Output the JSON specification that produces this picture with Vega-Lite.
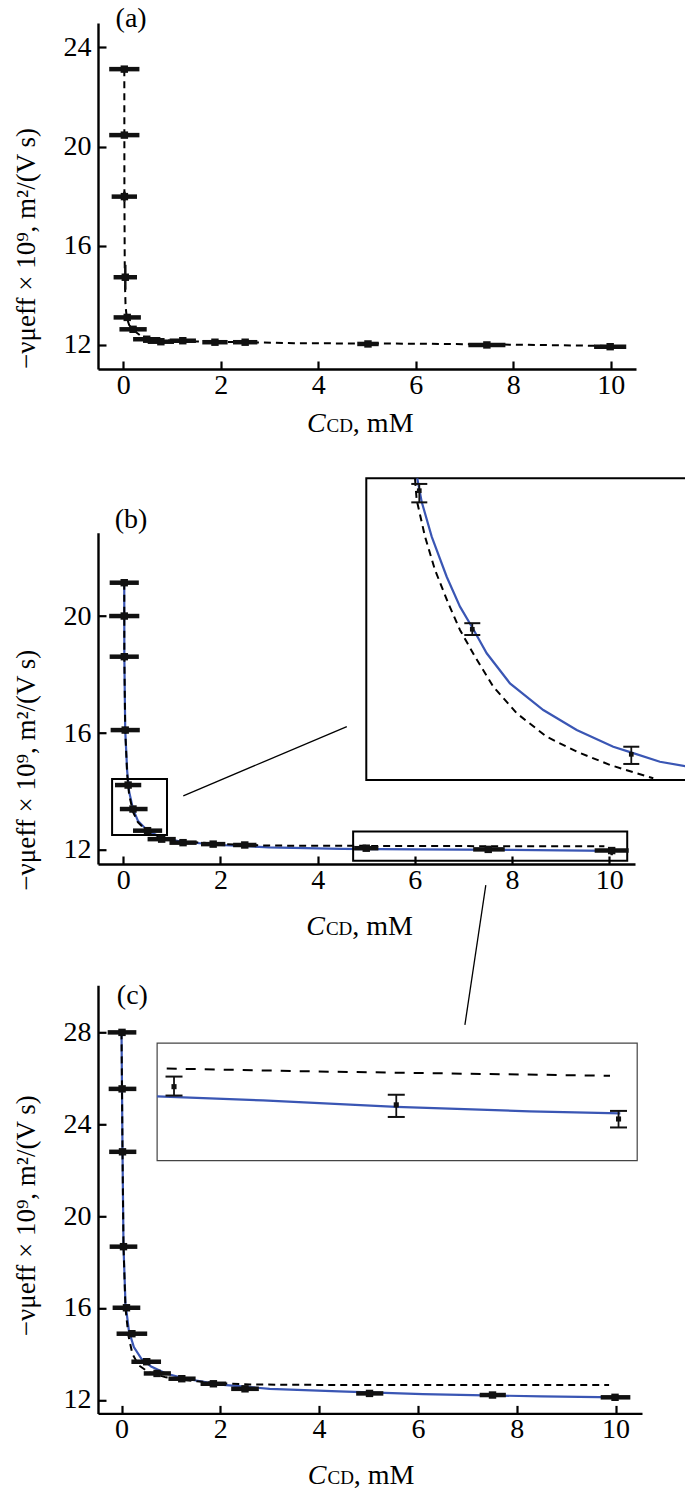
{
  "$schema": "https://vega.github.io/schema/vega-lite/v6.json",
  "padding": {"left": 12, "top": 5, "right": 0, "bottom": 0},
  "background": "white",
  "bounds": "flush",
  "spacing": 163.7,
  "config": {
    "view": {"stroke": null},
    "font": "Liberation Serif",
    "axis": {
      "grid": false,
      "domainColor": "black",
      "domainWidth": 2.4,
      "tickColor": "black",
      "tickWidth": 2.2,
      "tickSize": -8,
      "labelFont": "Liberation Serif",
      "labelFontSize": 28,
      "labelColor": "black",
      "labelOverlap": false,
      "labelFlush": false,
      "titleFont": "Liberation Serif",
      "titleFontSize": 27,
      "titleFontWeight": "normal",
      "titleColor": "black"
    }
  },
  "datasets": {
    "a_pts": [
      {"x": 0.02, "y": 23.12, "xlo": -0.29, "xhi": 0.33, "ylo": 23.02, "yhi": 23.22},
      {"x": 0.021, "y": 20.46, "xlo": -0.29, "xhi": 0.33, "ylo": 20.36, "yhi": 20.56},
      {"x": 0.022, "y": 17.98, "xlo": -0.24, "xhi": 0.28, "ylo": 17.78, "yhi": 18.18},
      {"x": 0.04, "y": 14.73, "xlo": -0.2, "xhi": 0.28, "ylo": 14.23, "yhi": 15.23},
      {"x": 0.08, "y": 13.11, "xlo": -0.2, "xhi": 0.36, "ylo": 12.97, "yhi": 13.25},
      {"x": 0.2, "y": 12.63, "xlo": -0.08, "xhi": 0.48, "ylo": 12.5, "yhi": 12.76},
      {"x": 0.48, "y": 12.23, "xlo": 0.2, "xhi": 0.76, "ylo": 12.13, "yhi": 12.33},
      {"x": 0.77, "y": 12.13, "xlo": 0.5, "xhi": 1.04, "ylo": 12.03, "yhi": 12.23},
      {"x": 1.22, "y": 12.17, "xlo": 0.95, "xhi": 1.49, "ylo": 12.07, "yhi": 12.27},
      {"x": 1.88, "y": 12.11, "xlo": 1.62, "xhi": 2.14, "ylo": 12.01, "yhi": 12.21},
      {"x": 2.5, "y": 12.11, "xlo": 2.25, "xhi": 2.75, "ylo": 12.01, "yhi": 12.21},
      {"x": 5.02, "y": 12.04, "xlo": 4.8, "xhi": 5.24, "ylo": 11.94, "yhi": 12.14},
      {"x": 7.46, "y": 12.0, "xlo": 7.08, "xhi": 7.84, "ylo": 11.88, "yhi": 12.12},
      {"x": 9.99, "y": 11.93, "xlo": 9.66, "xhi": 10.32, "ylo": 11.81, "yhi": 12.05}
    ],
    "a_dash": [
      {"x": 0.02, "y": 23.12}, {"x": 0.021, "y": 20.46}, {"x": 0.022, "y": 18.0},
      {"x": 0.03, "y": 14.7}, {"x": 0.045, "y": 13.6}, {"x": 0.07, "y": 13.1},
      {"x": 0.12, "y": 12.8}, {"x": 0.2, "y": 12.6}, {"x": 0.35, "y": 12.38},
      {"x": 0.6, "y": 12.23}, {"x": 1.0, "y": 12.17}, {"x": 1.5, "y": 12.14},
      {"x": 2.5, "y": 12.11}, {"x": 3.5, "y": 12.07}, {"x": 6.0, "y": 12.05},
      {"x": 8.5, "y": 12.0}, {"x": 10.3, "y": 11.95}
    ],
    "b_pts": [
      {"x": 0.02, "y": 21.14, "xlo": -0.28, "xhi": 0.32, "ylo": 21.06, "yhi": 21.22},
      {"x": 0.021, "y": 20.0, "xlo": -0.29, "xhi": 0.33, "ylo": 19.92, "yhi": 20.08},
      {"x": 0.022, "y": 18.61, "xlo": -0.28, "xhi": 0.32, "ylo": 18.53, "yhi": 18.69},
      {"x": 0.04, "y": 16.1, "xlo": -0.26, "xhi": 0.34, "ylo": 16.02, "yhi": 16.18},
      {"x": 0.1, "y": 14.22, "xlo": -0.17, "xhi": 0.37, "ylo": 14.15, "yhi": 14.26},
      {"x": 0.2, "y": 13.4, "xlo": -0.07, "xhi": 0.5, "ylo": 13.37, "yhi": 13.44},
      {"x": 0.5, "y": 12.66, "xlo": 0.2, "xhi": 0.8, "ylo": 12.6, "yhi": 12.71},
      {"x": 0.79, "y": 12.37, "xlo": 0.5, "xhi": 1.08, "ylo": 12.3, "yhi": 12.44},
      {"x": 1.23, "y": 12.25, "xlo": 0.95, "xhi": 1.51, "ylo": 12.18, "yhi": 12.32},
      {"x": 1.85, "y": 12.2, "xlo": 1.6, "xhi": 2.1, "ylo": 12.1, "yhi": 12.3},
      {"x": 2.5, "y": 12.17, "xlo": 2.26, "xhi": 2.74, "ylo": 12.07, "yhi": 12.27},
      {"x": 5.0, "y": 12.06, "xlo": 4.75, "xhi": 5.25, "ylo": 11.98, "yhi": 12.14},
      {"x": 7.51, "y": 12.02, "xlo": 7.2, "xhi": 7.85, "ylo": 11.95, "yhi": 12.09},
      {"x": 10.05, "y": 11.98, "xlo": 9.7, "xhi": 10.4, "ylo": 11.82, "yhi": 12.08}
    ],
    "b_dash": [
      {"x": 0.02, "y": 21.14}, {"x": 0.021, "y": 20.0}, {"x": 0.022, "y": 18.6},
      {"x": 0.04, "y": 16.1}, {"x": 0.08, "y": 14.6}, {"x": 0.12, "y": 13.9},
      {"x": 0.2, "y": 13.3}, {"x": 0.3, "y": 12.95}, {"x": 0.5, "y": 12.62},
      {"x": 0.8, "y": 12.42}, {"x": 1.2, "y": 12.3}, {"x": 2.0, "y": 12.2},
      {"x": 3.0, "y": 12.15}, {"x": 5.0, "y": 12.14}, {"x": 7.5, "y": 12.13},
      {"x": 9.9, "y": 12.13}
    ],
    "b_fit": [
      {"x": 0.02, "y": 21.14}, {"x": 0.021, "y": 20.0}, {"x": 0.022, "y": 18.6},
      {"x": 0.04, "y": 16.1}, {"x": 0.08, "y": 14.7}, {"x": 0.12, "y": 14.0},
      {"x": 0.2, "y": 13.4}, {"x": 0.3, "y": 13.0}, {"x": 0.5, "y": 12.66},
      {"x": 0.8, "y": 12.42}, {"x": 1.2, "y": 12.28}, {"x": 2.0, "y": 12.17},
      {"x": 3.0, "y": 12.09}, {"x": 4.5, "y": 12.04}, {"x": 6.0, "y": 12.02},
      {"x": 8.0, "y": 12.0}, {"x": 10.0, "y": 11.97}
    ],
    "b_boxes": [
      {"x": -0.23, "x2": 0.9, "y": 12.51, "y2": 14.43},
      {"x": 4.73, "x2": 10.37, "y": 11.63, "y2": 12.63}
    ],
    "b_links": [
      {"x": 1.235, "y": 13.85, "x2": 4.6, "y2": 16.22},
      {"x": 7.46, "y": 10.8, "x2": 7.03, "y2": 6.02}
    ],
    "bi_frame": [{"x": 0.0, "x2": 0.63, "y": 12.508, "y2": 14.293}],
    "bi_pts": [
      {"x": 0.1, "y": 14.22, "ylo": 14.151, "yhi": 14.26},
      {"x": 0.2, "y": 13.4, "ylo": 13.366, "yhi": 13.436},
      {"x": 0.5, "y": 12.66, "ylo": 12.603, "yhi": 12.705}
    ],
    "bi_fit": [
      {"x": 0.0962, "y": 14.293}, {"x": 0.1045, "y": 14.155}, {"x": 0.1234, "y": 13.948},
      {"x": 0.1517, "y": 13.711}, {"x": 0.1768, "y": 13.534}, {"x": 0.2019, "y": 13.4},
      {"x": 0.2272, "y": 13.258}, {"x": 0.2711, "y": 13.08}, {"x": 0.334, "y": 12.922},
      {"x": 0.397, "y": 12.804}, {"x": 0.466, "y": 12.705}, {"x": 0.5008, "y": 12.67},
      {"x": 0.554, "y": 12.616}, {"x": 0.63, "y": 12.575}
    ],
    "bi_dash": [
      {"x": 0.092, "y": 14.29}, {"x": 0.0951, "y": 14.165}, {"x": 0.1108, "y": 13.948},
      {"x": 0.1296, "y": 13.751}, {"x": 0.1547, "y": 13.554}, {"x": 0.1768, "y": 13.396},
      {"x": 0.2051, "y": 13.238}, {"x": 0.2396, "y": 13.06}, {"x": 0.2838, "y": 12.903},
      {"x": 0.3404, "y": 12.764}, {"x": 0.397, "y": 12.676}, {"x": 0.4598, "y": 12.597},
      {"x": 0.5415, "y": 12.518}
    ],
    "c_pts": [
      {"x": 0.01, "y": 28.0, "xlo": -0.28, "xhi": 0.3, "ylo": 27.9, "yhi": 28.1},
      {"x": 0.012, "y": 25.54, "xlo": -0.26, "xhi": 0.3, "ylo": 25.44, "yhi": 25.64},
      {"x": 0.02, "y": 22.8, "xlo": -0.25, "xhi": 0.3, "ylo": 22.7, "yhi": 22.9},
      {"x": 0.04, "y": 18.67, "xlo": -0.24, "xhi": 0.32, "ylo": 18.57, "yhi": 18.77},
      {"x": 0.1, "y": 16.01, "xlo": -0.18, "xhi": 0.38, "ylo": 15.91, "yhi": 16.11},
      {"x": 0.21, "y": 14.88, "xlo": -0.1, "xhi": 0.52, "ylo": 14.78, "yhi": 14.98},
      {"x": 0.51, "y": 13.66, "xlo": 0.2, "xhi": 0.8, "ylo": 13.56, "yhi": 13.76},
      {"x": 0.72, "y": 13.15, "xlo": 0.45, "xhi": 1.0, "ylo": 13.05, "yhi": 13.25},
      {"x": 1.22, "y": 12.92, "xlo": 0.95, "xhi": 1.5, "ylo": 12.82, "yhi": 13.02},
      {"x": 1.86, "y": 12.7, "xlo": 1.6, "xhi": 2.12, "ylo": 12.6, "yhi": 12.8},
      {"x": 2.5, "y": 12.48, "xlo": 2.22, "xhi": 2.78, "ylo": 12.38, "yhi": 12.58},
      {"x": 5.02, "y": 12.28, "xlo": 4.75, "xhi": 5.3, "ylo": 12.18, "yhi": 12.38},
      {"x": 7.51, "y": 12.21, "xlo": 7.25, "xhi": 7.78, "ylo": 12.11, "yhi": 12.31},
      {"x": 9.99, "y": 12.11, "xlo": 9.7, "xhi": 10.3, "ylo": 11.95, "yhi": 12.21}
    ],
    "c_fit": [
      {"x": 0.0, "y": 28.0}, {"x": 0.01, "y": 25.5}, {"x": 0.02, "y": 22.8},
      {"x": 0.04, "y": 18.7}, {"x": 0.08, "y": 16.2}, {"x": 0.15, "y": 15.0},
      {"x": 0.25, "y": 14.3}, {"x": 0.4, "y": 13.8}, {"x": 0.6, "y": 13.45},
      {"x": 0.9, "y": 13.15}, {"x": 1.3, "y": 12.92}, {"x": 2.0, "y": 12.66},
      {"x": 3.0, "y": 12.48}, {"x": 4.4, "y": 12.37}, {"x": 6.1, "y": 12.25},
      {"x": 8.5, "y": 12.15}, {"x": 10.05, "y": 12.11}
    ],
    "c_dash": [
      {"x": 0.0, "y": 28.0}, {"x": 0.01, "y": 25.5}, {"x": 0.02, "y": 22.8},
      {"x": 0.04, "y": 18.7}, {"x": 0.08, "y": 16.0}, {"x": 0.14, "y": 14.8},
      {"x": 0.22, "y": 14.0}, {"x": 0.35, "y": 13.5}, {"x": 0.55, "y": 13.2},
      {"x": 0.9, "y": 12.98}, {"x": 1.3, "y": 12.85}, {"x": 2.0, "y": 12.72},
      {"x": 2.6, "y": 12.67}, {"x": 4.0, "y": 12.65}, {"x": 7.0, "y": 12.65},
      {"x": 9.87, "y": 12.65}
    ],
    "ci_frame": [{"x": 4.81, "x2": 10.21, "y": 11.877, "y2": 12.168}],
    "ci_pts": [
      {"x": 5.0, "y": 12.06, "ylo": 12.038, "yhi": 12.085},
      {"x": 7.5, "y": 12.015, "ylo": 11.985, "yhi": 12.04},
      {"x": 10.0, "y": 11.98, "ylo": 11.959, "yhi": 12.0}
    ],
    "ci_fit": [
      {"x": 4.81, "y": 12.036}, {"x": 6.0, "y": 12.026}, {"x": 7.5, "y": 12.01},
      {"x": 9.0, "y": 11.999}, {"x": 10.02, "y": 11.994}
    ],
    "ci_dash": [
      {"x": 4.918, "y": 12.105}, {"x": 6.5, "y": 12.098}, {"x": 8.0, "y": 12.093},
      {"x": 9.904, "y": 12.087}
    ]
  },
  "vconcat": [
    {
      "width": 538,
      "height": 346,
      "layer": [
        {
          "data": {"name": "a_dash"},
          "mark": {"type": "line", "color": "black", "strokeWidth": 2, "strokeDash": [7, 5]},
          "encoding": {
            "x": {"field": "x", "type": "quantitative", "scale": {"domain": [-0.52, 10.52], "nice": false, "zero": false}, "axis": {"values": [0, 2, 4, 6, 8, 10], "title": null, "labelPadding": 10}},
            "y": {"field": "y", "type": "quantitative", "scale": {"domain": [11.03, 24.98], "nice": false, "zero": false}, "axis": {"values": [12, 16, 20, 24], "title": "−νμeff × 10⁹, m²/(V s)", "titleY": 225, "titlePadding": 23, "labelPadding": 15}}
          }
        },
        {
          "data": {"name": "a_pts"},
          "mark": {"type": "rule", "color": "#111", "strokeWidth": 4.5},
          "encoding": {
            "x": {"field": "xlo", "type": "quantitative", "scale": {"domain": [-0.52, 10.52], "nice": false, "zero": false}},
            "x2": {"field": "xhi"},
            "y": {"field": "y", "type": "quantitative", "scale": {"domain": [11.03, 24.98], "nice": false, "zero": false}}
          }
        },
        {
          "data": {"name": "a_pts"},
          "mark": {"type": "rule", "color": "#111", "strokeWidth": 2.5},
          "encoding": {
            "x": {"field": "x", "type": "quantitative", "scale": {"domain": [-0.52, 10.52], "nice": false, "zero": false}},
            "y": {"field": "ylo", "type": "quantitative", "scale": {"domain": [11.03, 24.98], "nice": false, "zero": false}},
            "y2": {"field": "yhi"}
          }
        },
        {
          "data": {"name": "a_pts"},
          "mark": {"type": "square", "color": "#111", "size": 55, "opacity": 1},
          "encoding": {
            "x": {"field": "x", "type": "quantitative", "scale": {"domain": [-0.52, 10.52], "nice": false, "zero": false}},
            "y": {"field": "y", "type": "quantitative", "scale": {"domain": [11.03, 24.98], "nice": false, "zero": false}}
          }
        },
        {
          "data": {"values": [{}]},
          "mark": {"type": "text", "text": "(a)", "fontSize": 28, "font": "Liberation Serif", "align": "center", "baseline": "middle", "color": "black"},
          "encoding": {
            "x": {"datum": 0.16, "type": "quantitative", "scale": {"domain": [-0.52, 10.52], "nice": false, "zero": false}},
            "y": {"datum": 25.14, "type": "quantitative", "scale": {"domain": [11.03, 24.98], "nice": false, "zero": false}}
          }
        },
        {
          "data": {"values": [{}]},
          "mark": {"type": "text", "text": "C", "fontSize": 28, "fontStyle": "italic", "font": "Liberation Serif", "align": "right", "baseline": "alphabetic", "color": "black"},
          "encoding": {
            "x": {"datum": 4.15, "type": "quantitative", "scale": {"domain": [-0.52, 10.52], "nice": false, "zero": false}},
            "y": {"datum": 8.49, "type": "quantitative", "scale": {"domain": [11.03, 24.98], "nice": false, "zero": false}}
          }
        },
        {
          "data": {"values": [{}]},
          "mark": {"type": "text", "text": "CD", "fontSize": 19, "font": "Liberation Serif", "align": "left", "baseline": "alphabetic", "color": "black", "dx": 1},
          "encoding": {
            "x": {"datum": 4.15, "type": "quantitative", "scale": {"domain": [-0.52, 10.52], "nice": false, "zero": false}},
            "y": {"datum": 8.49, "type": "quantitative", "scale": {"domain": [11.03, 24.98], "nice": false, "zero": false}}
          }
        },
        {
          "data": {"values": [{}]},
          "mark": {"type": "text", "text": ", mM", "fontSize": 28, "font": "Liberation Serif", "align": "left", "baseline": "alphabetic", "color": "black"},
          "encoding": {
            "x": {"datum": 4.71, "type": "quantitative", "scale": {"domain": [-0.52, 10.52], "nice": false, "zero": false}},
            "y": {"datum": 8.49, "type": "quantitative", "scale": {"domain": [11.03, 24.98], "nice": false, "zero": false}}
          }
        }
      ]
    },
    {
      "bounds": "flush",
      "spacing": 120.6,
      "vconcat": [
        {
          "width": 537,
          "height": 331.3,
          "layer": [
            {
              "layer": [
                {
                  "data": {"name": "b_fit"},
                  "mark": {"type": "line", "color": "#3a56b4", "strokeWidth": 2.2},
                  "encoding": {
                    "x": {"field": "x", "type": "quantitative", "scale": {"domain": [-0.52, 10.53], "nice": false, "zero": false}, "axis": {"values": [0, 2, 4, 6, 8, 10], "title": null, "labelPadding": 10}},
                    "y": {"field": "y", "type": "quantitative", "scale": {"domain": [11.52, 22.85], "nice": false, "zero": false}, "axis": {"values": [12, 16, 20], "title": "−νμeff × 10⁹, m²/(V s)", "titleY": 237, "titlePadding": 23, "labelPadding": 15}}
                  }
                },
                {
                  "data": {"name": "b_dash"},
                  "mark": {"type": "line", "color": "black", "strokeWidth": 2, "strokeDash": [7, 5]},
                  "encoding": {
                    "x": {"field": "x", "type": "quantitative", "scale": {"domain": [-0.52, 10.53], "nice": false, "zero": false}},
                    "y": {"field": "y", "type": "quantitative", "scale": {"domain": [11.52, 22.85], "nice": false, "zero": false}}
                  }
                },
                {
                  "data": {"name": "b_boxes"},
                  "mark": {"type": "rect", "fillOpacity": 0, "stroke": "black", "strokeWidth": 2},
                  "encoding": {
                    "x": {"field": "x", "type": "quantitative", "scale": {"domain": [-0.52, 10.53], "nice": false, "zero": false}},
                    "x2": {"field": "x2"},
                    "y": {"field": "y", "type": "quantitative", "scale": {"domain": [11.52, 22.85], "nice": false, "zero": false}},
                    "y2": {"field": "y2"}
                  }
                },
                {
                  "data": {"name": "b_links"},
                  "mark": {"type": "rule", "color": "black", "strokeWidth": 1.3},
                  "encoding": {
                    "x": {"field": "x", "type": "quantitative", "scale": {"domain": [-0.52, 10.53], "nice": false, "zero": false}},
                    "x2": {"field": "x2"},
                    "y": {"field": "y", "type": "quantitative", "scale": {"domain": [11.52, 22.85], "nice": false, "zero": false}},
                    "y2": {"field": "y2"}
                  }
                },
                {
                  "data": {"name": "b_pts"},
                  "mark": {"type": "rule", "color": "#111", "strokeWidth": 4.5},
                  "encoding": {
                    "x": {"field": "xlo", "type": "quantitative", "scale": {"domain": [-0.52, 10.53], "nice": false, "zero": false}},
                    "x2": {"field": "xhi"},
                    "y": {"field": "y", "type": "quantitative", "scale": {"domain": [11.52, 22.85], "nice": false, "zero": false}}
                  }
                },
                {
                  "data": {"name": "b_pts"},
                  "mark": {"type": "rule", "color": "#111", "strokeWidth": 2.5},
                  "encoding": {
                    "x": {"field": "x", "type": "quantitative", "scale": {"domain": [-0.52, 10.53], "nice": false, "zero": false}},
                    "y": {"field": "ylo", "type": "quantitative", "scale": {"domain": [11.52, 22.85], "nice": false, "zero": false}},
                    "y2": {"field": "yhi"}
                  }
                },
                {
                  "data": {"name": "b_pts"},
                  "mark": {"type": "square", "color": "#111", "size": 55, "opacity": 1},
                  "encoding": {
                    "x": {"field": "x", "type": "quantitative", "scale": {"domain": [-0.52, 10.53], "nice": false, "zero": false}},
                    "y": {"field": "y", "type": "quantitative", "scale": {"domain": [11.52, 22.85], "nice": false, "zero": false}}
                  }
                },
                {
                  "data": {"values": [{}]},
                  "mark": {"type": "text", "text": "(b)", "fontSize": 28, "font": "Liberation Serif", "align": "center", "baseline": "middle", "color": "black"},
                  "encoding": {
                    "x": {"datum": 0.16, "type": "quantitative", "scale": {"domain": [-0.52, 10.53], "nice": false, "zero": false}},
                    "y": {"datum": 23.3, "type": "quantitative", "scale": {"domain": [11.52, 22.85], "nice": false, "zero": false}}
                  }
                },
                {
                  "data": {"values": [{}]},
                  "mark": {"type": "text", "text": "C", "fontSize": 28, "fontStyle": "italic", "font": "Liberation Serif", "align": "right", "baseline": "alphabetic", "color": "black"},
                  "encoding": {
                    "x": {"datum": 4.15, "type": "quantitative", "scale": {"domain": [-0.52, 10.53], "nice": false, "zero": false}},
                    "y": {"datum": 9.09, "type": "quantitative", "scale": {"domain": [11.52, 22.85], "nice": false, "zero": false}}
                  }
                },
                {
                  "data": {"values": [{}]},
                  "mark": {"type": "text", "text": "CD", "fontSize": 19, "font": "Liberation Serif", "align": "left", "baseline": "alphabetic", "color": "black", "dx": 1},
                  "encoding": {
                    "x": {"datum": 4.15, "type": "quantitative", "scale": {"domain": [-0.52, 10.53], "nice": false, "zero": false}},
                    "y": {"datum": 9.09, "type": "quantitative", "scale": {"domain": [11.52, 22.85], "nice": false, "zero": false}}
                  }
                },
                {
                  "data": {"values": [{}]},
                  "mark": {"type": "text", "text": ", mM", "fontSize": 28, "font": "Liberation Serif", "align": "left", "baseline": "alphabetic", "color": "black"},
                  "encoding": {
                    "x": {"datum": 4.71, "type": "quantitative", "scale": {"domain": [-0.52, 10.53], "nice": false, "zero": false}},
                    "y": {"datum": 9.09, "type": "quantitative", "scale": {"domain": [11.52, 22.85], "nice": false, "zero": false}}
                  }
                }
              ]
            },
            {
              "layer": [
                {
                  "data": {"name": "bi_frame"},
                  "mark": {"type": "rect", "fillOpacity": 0, "stroke": "black", "strokeWidth": 2},
                  "encoding": {
                    "x": {"field": "x", "type": "quantitative", "scale": {"domain": [-0.5062, 0.507], "nice": false, "zero": false}, "axis": null},
                    "x2": {"field": "x2"},
                    "y": {"field": "y", "type": "quantitative", "scale": {"domain": [12.011, 13.9715], "nice": false, "zero": false}, "axis": null},
                    "y2": {"field": "y2"}
                  }
                },
                {
                  "data": {"name": "bi_fit"},
                  "mark": {"type": "line", "color": "#3a56b4", "strokeWidth": 2.2},
                  "encoding": {
                    "x": {"field": "x", "type": "quantitative", "scale": {"domain": [-0.5062, 0.507], "nice": false, "zero": false}, "axis": null},
                    "y": {"field": "y", "type": "quantitative", "scale": {"domain": [12.011, 13.9715], "nice": false, "zero": false}, "axis": null}
                  }
                },
                {
                  "data": {"name": "bi_dash"},
                  "mark": {"type": "line", "color": "black", "strokeWidth": 2, "strokeDash": [7, 5]},
                  "encoding": {
                    "x": {"field": "x", "type": "quantitative", "scale": {"domain": [-0.5062, 0.507], "nice": false, "zero": false}, "axis": null},
                    "y": {"field": "y", "type": "quantitative", "scale": {"domain": [12.011, 13.9715], "nice": false, "zero": false}, "axis": null}
                  }
                },
                {
                  "data": {"name": "bi_pts"},
                  "mark": {"type": "rule", "color": "#111", "strokeWidth": 1.8},
                  "encoding": {
                    "x": {"field": "x", "type": "quantitative", "scale": {"domain": [-0.5062, 0.507], "nice": false, "zero": false}, "axis": null},
                    "y": {"field": "ylo", "type": "quantitative", "scale": {"domain": [12.011, 13.9715], "nice": false, "zero": false}, "axis": null},
                    "y2": {"field": "yhi"}
                  }
                },
                {
                  "data": {"name": "bi_pts"},
                  "mark": {"type": "tick", "orient": "horizontal", "size": 16, "thickness": 2, "color": "#111", "opacity": 1},
                  "encoding": {
                    "x": {"field": "x", "type": "quantitative", "scale": {"domain": [-0.5062, 0.507], "nice": false, "zero": false}, "axis": null},
                    "y": {"field": "ylo", "type": "quantitative", "scale": {"domain": [12.011, 13.9715], "nice": false, "zero": false}, "axis": null}
                  }
                },
                {
                  "data": {"name": "bi_pts"},
                  "mark": {"type": "tick", "orient": "horizontal", "size": 16, "thickness": 2, "color": "#111", "opacity": 1},
                  "encoding": {
                    "x": {"field": "x", "type": "quantitative", "scale": {"domain": [-0.5062, 0.507], "nice": false, "zero": false}, "axis": null},
                    "y": {"field": "yhi", "type": "quantitative", "scale": {"domain": [12.011, 13.9715], "nice": false, "zero": false}, "axis": null}
                  }
                },
                {
                  "data": {"name": "bi_pts"},
                  "mark": {"type": "square", "color": "#111", "size": 22, "opacity": 1},
                  "encoding": {
                    "x": {"field": "x", "type": "quantitative", "scale": {"domain": [-0.5062, 0.507], "nice": false, "zero": false}, "axis": null},
                    "y": {"field": "y", "type": "quantitative", "scale": {"domain": [12.011, 13.9715], "nice": false, "zero": false}, "axis": null}
                  }
                }
              ]
            }
          ],
          "resolve": {"scale": {"x": "independent", "y": "independent"}}
        },
        {
          "width": 544,
          "height": 428.1,
          "layer": [
            {
              "layer": [
                {
                  "data": {"name": "c_fit"},
                  "mark": {"type": "line", "color": "#3a56b4", "strokeWidth": 2.2},
                  "encoding": {
                    "x": {"field": "x", "type": "quantitative", "scale": {"domain": [-0.476, 10.536], "nice": false, "zero": false}, "axis": {"values": [0, 2, 4, 6, 8, 10], "title": null, "labelPadding": 10}},
                    "y": {"field": "y", "type": "quantitative", "scale": {"domain": [11.41, 30.05], "nice": false, "zero": false}, "axis": {"values": [12, 16, 20, 24, 28], "title": "−νμeff × 10⁹, m²/(V s)", "titleY": 230, "titlePadding": 23, "labelPadding": 15}}
                  }
                },
                {
                  "data": {"name": "c_dash"},
                  "mark": {"type": "line", "color": "black", "strokeWidth": 2, "strokeDash": [7, 5]},
                  "encoding": {
                    "x": {"field": "x", "type": "quantitative", "scale": {"domain": [-0.476, 10.536], "nice": false, "zero": false}},
                    "y": {"field": "y", "type": "quantitative", "scale": {"domain": [11.41, 30.05], "nice": false, "zero": false}}
                  }
                },
                {
                  "data": {"name": "c_pts"},
                  "mark": {"type": "rule", "color": "#111", "strokeWidth": 4.5},
                  "encoding": {
                    "x": {"field": "xlo", "type": "quantitative", "scale": {"domain": [-0.476, 10.536], "nice": false, "zero": false}},
                    "x2": {"field": "xhi"},
                    "y": {"field": "y", "type": "quantitative", "scale": {"domain": [11.41, 30.05], "nice": false, "zero": false}}
                  }
                },
                {
                  "data": {"name": "c_pts"},
                  "mark": {"type": "rule", "color": "#111", "strokeWidth": 2.5},
                  "encoding": {
                    "x": {"field": "x", "type": "quantitative", "scale": {"domain": [-0.476, 10.536], "nice": false, "zero": false}},
                    "y": {"field": "ylo", "type": "quantitative", "scale": {"domain": [11.41, 30.05], "nice": false, "zero": false}},
                    "y2": {"field": "yhi"}
                  }
                },
                {
                  "data": {"name": "c_pts"},
                  "mark": {"type": "square", "color": "#111", "size": 55, "opacity": 1},
                  "encoding": {
                    "x": {"field": "x", "type": "quantitative", "scale": {"domain": [-0.476, 10.536], "nice": false, "zero": false}},
                    "y": {"field": "y", "type": "quantitative", "scale": {"domain": [11.41, 30.05], "nice": false, "zero": false}}
                  }
                },
                {
                  "data": {"values": [{}]},
                  "mark": {"type": "text", "text": "(c)", "fontSize": 28, "font": "Liberation Serif", "align": "center", "baseline": "middle", "color": "black"},
                  "encoding": {
                    "x": {"datum": 0.22, "type": "quantitative", "scale": {"domain": [-0.476, 10.536], "nice": false, "zero": false}},
                    "y": {"datum": 29.59, "type": "quantitative", "scale": {"domain": [11.41, 30.05], "nice": false, "zero": false}}
                  }
                },
                {
                  "data": {"values": [{}]},
                  "mark": {"type": "text", "text": "C", "fontSize": 28, "fontStyle": "italic", "font": "Liberation Serif", "align": "right", "baseline": "alphabetic", "color": "black"},
                  "encoding": {
                    "x": {"datum": 4.15, "type": "quantitative", "scale": {"domain": [-0.476, 10.536], "nice": false, "zero": false}},
                    "y": {"datum": 8.35, "type": "quantitative", "scale": {"domain": [11.41, 30.05], "nice": false, "zero": false}}
                  }
                },
                {
                  "data": {"values": [{}]},
                  "mark": {"type": "text", "text": "CD", "fontSize": 19, "font": "Liberation Serif", "align": "left", "baseline": "alphabetic", "color": "black", "dx": 1},
                  "encoding": {
                    "x": {"datum": 4.15, "type": "quantitative", "scale": {"domain": [-0.476, 10.536], "nice": false, "zero": false}},
                    "y": {"datum": 8.35, "type": "quantitative", "scale": {"domain": [11.41, 30.05], "nice": false, "zero": false}}
                  }
                },
                {
                  "data": {"values": [{}]},
                  "mark": {"type": "text", "text": ", mM", "fontSize": 28, "font": "Liberation Serif", "align": "left", "baseline": "alphabetic", "color": "black"},
                  "encoding": {
                    "x": {"datum": 4.7, "type": "quantitative", "scale": {"domain": [-0.476, 10.536], "nice": false, "zero": false}},
                    "y": {"datum": 8.35, "type": "quantitative", "scale": {"domain": [11.41, 30.05], "nice": false, "zero": false}}
                  }
                }
              ]
            },
            {
              "layer": [
                {
                  "data": {"name": "ci_frame"},
                  "mark": {"type": "rect", "fillOpacity": 0, "stroke": "#444", "strokeWidth": 1.2},
                  "encoding": {
                    "x": {"field": "x", "type": "quantitative", "scale": {"domain": [4.145, 10.264], "nice": false, "zero": false}, "axis": null},
                    "x2": {"field": "x2"},
                    "y": {"field": "y", "type": "quantitative", "scale": {"domain": [11.251, 12.311], "nice": false, "zero": false}, "axis": null},
                    "y2": {"field": "y2"}
                  }
                },
                {
                  "data": {"name": "ci_fit"},
                  "mark": {"type": "line", "color": "#3a56b4", "strokeWidth": 2.2},
                  "encoding": {
                    "x": {"field": "x", "type": "quantitative", "scale": {"domain": [4.145, 10.264], "nice": false, "zero": false}, "axis": null},
                    "y": {"field": "y", "type": "quantitative", "scale": {"domain": [11.251, 12.311], "nice": false, "zero": false}, "axis": null}
                  }
                },
                {
                  "data": {"name": "ci_dash"},
                  "mark": {"type": "line", "color": "black", "strokeWidth": 2, "strokeDash": [10, 9]},
                  "encoding": {
                    "x": {"field": "x", "type": "quantitative", "scale": {"domain": [4.145, 10.264], "nice": false, "zero": false}, "axis": null},
                    "y": {"field": "y", "type": "quantitative", "scale": {"domain": [11.251, 12.311], "nice": false, "zero": false}, "axis": null}
                  }
                },
                {
                  "data": {"name": "ci_pts"},
                  "mark": {"type": "rule", "color": "#111", "strokeWidth": 1.8},
                  "encoding": {
                    "x": {"field": "x", "type": "quantitative", "scale": {"domain": [4.145, 10.264], "nice": false, "zero": false}, "axis": null},
                    "y": {"field": "ylo", "type": "quantitative", "scale": {"domain": [11.251, 12.311], "nice": false, "zero": false}, "axis": null},
                    "y2": {"field": "yhi"}
                  }
                },
                {
                  "data": {"name": "ci_pts"},
                  "mark": {"type": "tick", "orient": "horizontal", "size": 17, "thickness": 2, "color": "#111", "opacity": 1},
                  "encoding": {
                    "x": {"field": "x", "type": "quantitative", "scale": {"domain": [4.145, 10.264], "nice": false, "zero": false}, "axis": null},
                    "y": {"field": "ylo", "type": "quantitative", "scale": {"domain": [11.251, 12.311], "nice": false, "zero": false}, "axis": null}
                  }
                },
                {
                  "data": {"name": "ci_pts"},
                  "mark": {"type": "tick", "orient": "horizontal", "size": 17, "thickness": 2, "color": "#111", "opacity": 1},
                  "encoding": {
                    "x": {"field": "x", "type": "quantitative", "scale": {"domain": [4.145, 10.264], "nice": false, "zero": false}, "axis": null},
                    "y": {"field": "yhi", "type": "quantitative", "scale": {"domain": [11.251, 12.311], "nice": false, "zero": false}, "axis": null}
                  }
                },
                {
                  "data": {"name": "ci_pts"},
                  "mark": {"type": "square", "color": "#111", "size": 26, "opacity": 1},
                  "encoding": {
                    "x": {"field": "x", "type": "quantitative", "scale": {"domain": [4.145, 10.264], "nice": false, "zero": false}, "axis": null},
                    "y": {"field": "y", "type": "quantitative", "scale": {"domain": [11.251, 12.311], "nice": false, "zero": false}, "axis": null}
                  }
                }
              ]
            }
          ],
          "resolve": {"scale": {"x": "independent", "y": "independent"}}
        }
      ]
    }
  ]
}
